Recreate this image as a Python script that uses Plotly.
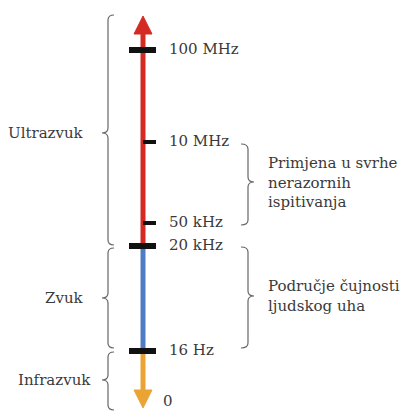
import plotly.graph_objects as go

# ---- data (positions are pixel rows of the schematic scale) ----
freq_labels = ["100 MHz", "10 MHz", "50 kHz", "20 kHz", "16 Hz", "0"]
freq_pos = [50, 142, 223, 246, 351, 402]
freq_major = [True, False, False, True, True, None]

band_names = ["Ultrazvuk", "Zvuk", "Infrazvuk"]
band_top = [16, 246, 351]
band_bottom = [246, 351, 408]
band_brace_top = [15, 248, 352]
band_brace_mid = [133, 298, 380]
band_brace_bottom = [245, 348, 410]
band_colors = ["#d42a24", "#4f7cc2", "#eba434"]

note_texts = ["Primjena u svrhe<br>nerazornih<br>ispitivanja", "Područje čujnosti<br>ljudskog uha"]
note_brace_top = [144, 247]
note_brace_mid = [182, 296]
note_brace_bottom = [225, 348]

FONT = "DejaVu Serif"
TXT = "#3a3a3a"
FS = 15
AX_X = 143

fig = go.Figure()
shapes = []


def brace(x0, xtip, xend, yt, ym, yb, r=5):
    return (f"M {xend},{yt} Q {x0},{yt} {x0},{yt + r} L {x0},{ym - r} "
            f"Q {x0},{ym} {xtip},{ym} Q {x0},{ym} {x0},{ym + r} "
            f"L {x0},{yb - r} Q {x0},{yb} {xend},{yb}")


for i, name in enumerate(band_names):
    top = band_top[i]
    bot = band_bottom[i]
    if i == 0:
        top = top + 18
    if i == len(band_names) - 1:
        bot = bot - 18
    fig.add_trace(go.Scatter(x=[AX_X, AX_X], y=[top, bot], mode="lines",
                             line=dict(color=band_colors[i], width=5),
                             hoverinfo="skip", showlegend=False))

tip_up = band_top[0]
fig.add_trace(go.Scatter(x=[AX_X - 9, AX_X, AX_X + 9, AX_X - 9],
                         y=[tip_up + 18, tip_up, tip_up + 18, tip_up + 18],
                         fill="toself", fillcolor=band_colors[0], mode="lines",
                         line=dict(color=band_colors[0], width=1),
                         hoverinfo="skip", showlegend=False))
tip_dn = band_bottom[-1]
fig.add_trace(go.Scatter(x=[AX_X - 9, AX_X, AX_X + 9, AX_X - 9],
                         y=[tip_dn - 18, tip_dn, tip_dn - 18, tip_dn - 18],
                         fill="toself", fillcolor=band_colors[-1], mode="lines",
                         line=dict(color=band_colors[-1], width=1),
                         hoverinfo="skip", showlegend=False))

for lab, pos, major in zip(freq_labels, freq_pos, freq_major):
    if major is None:
        continue
    x0 = AX_X - 14 if major else AX_X
    fig.add_trace(go.Scatter(x=[x0, AX_X + 13], y=[pos, pos], mode="lines",
                             line=dict(color="#111111", width=6 if major else 4),
                             hoverinfo="skip", showlegend=False))

fig.add_trace(go.Scatter(x=[169 if m is not None else 163 for m in freq_major], y=freq_pos,
                         mode="text", text=freq_labels, textposition="middle right",
                         textfont=dict(family=FONT, size=FS, color=TXT),
                         hoverinfo="skip", showlegend=False))

for i, name in enumerate(band_names):
    shapes.append(dict(type="path", xref="x", yref="y",
                       path=brace(108, 102, 114, band_brace_top[i], band_brace_mid[i], band_brace_bottom[i]),
                       line=dict(color="#666666", width=1.2)))
    fig.add_annotation(x=86 if i < 2 else 93, y=band_brace_mid[i], text=name, showarrow=False,
                       xanchor="right", yanchor="middle",
                       font=dict(family=FONT, size=FS, color=TXT))

for i, t in enumerate(note_texts):
    shapes.append(dict(type="path", xref="x", yref="y",
                       path=brace(248, 254, 241, note_brace_top[i], note_brace_mid[i], note_brace_bottom[i]),
                       line=dict(color="#666666", width=1.2)))
    fig.add_annotation(x=266, y=note_brace_mid[i], text=t, showarrow=False,
                       xanchor="left", yanchor="middle", align="left",
                       font=dict(family=FONT, size=FS, color=TXT))

fig.update_layout(
    width=403, height=412,
    margin=dict(l=0, r=0, t=0, b=0),
    paper_bgcolor="white", plot_bgcolor="white",
    xaxis=dict(range=[0, 403], visible=False, fixedrange=True),
    yaxis=dict(range=[412, 0], visible=False, fixedrange=True),
    shapes=shapes,
    showlegend=False,
)

fig.write_html("out.html", config={"displayModeBar": False},
               post_script="document.body.style.margin='0';")
